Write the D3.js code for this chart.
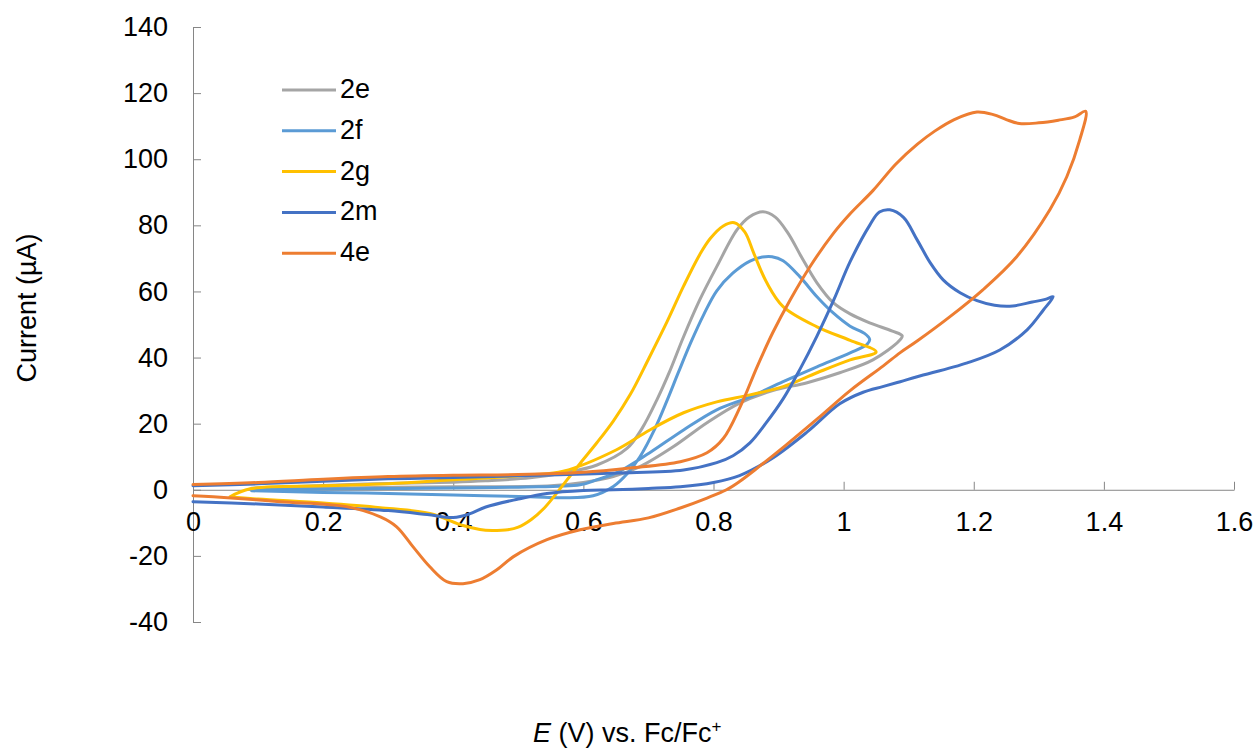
<!DOCTYPE html>
<html>
<head>
<meta charset="utf-8">
<script src="https://cdn.jsdelivr.net/npm/d3@7"></script>
<style>
  html, body { margin: 0; padding: 0; background: #fff; }
  svg { display: block; font-family: "Liberation Sans", Arial, sans-serif; }
</style>
</head>
<body>
<svg id="chart" width="1257" height="749"></svg>
<script>
// ---- data (E in V vs Fc/Fc+, current in µA) ----
const seriesNames = ["2e", "2f", "2g", "2m", "4e"];
const seriesColors = ["#A5A5A5", "#5B9BD5", "#FFC000", "#4472C4", "#ED7D31"];
const xTicks = [0, 0.2, 0.4, 0.6, 0.8, 1, 1.2, 1.4, 1.6];
const yTicks = [-40, -20, 0, 20, 40, 60, 80, 100, 120, 140];

const cv2e = [[0.09,0.5],[0.15,0.9],[0.2,1.3],[0.3,1.9],[0.4,2.3],[0.45,2.7],[0.518,3.6],[0.569,5.1],[0.621,7.5],[0.667,12.5],[0.69,18.5],[0.713,27.2],[0.732,35.5],[0.754,46.3],[0.779,57.5],[0.805,67.5],[0.836,78.6],[0.855,82.5],[0.876,84.1],[0.895,82.5],[0.915,77.5],[0.935,70.5],[0.959,62.6],[0.984,56.6],[1.01,53.2],[1.04,50.5],[1.075,48],[1.09,46.6],[1.085,45],[1.045,39.3],[0.994,35.4],[0.944,32.4],[0.891,30],[0.841,26.3],[0.79,20.3],[0.738,13],[0.687,7],[0.646,4],[0.6,2.2],[0.55,1.2],[0.4,0.9],[0.2,0.5],[0.09,0.2]];
const cv2f = [[0.09,-0.3],[0.2,-0.8],[0.3,-1.1],[0.4,-1.6],[0.518,-2.1],[0.57,-2.4],[0.615,-1.8],[0.646,1],[0.668,5],[0.687,10],[0.71,18.5],[0.729,27.2],[0.746,35.5],[0.765,44.5],[0.785,53],[0.805,60.2],[0.83,65.6],[0.856,69.2],[0.875,70.4],[0.89,70.5],[0.907,69.3],[0.933,64.4],[0.959,58.4],[0.984,53.5],[1.01,49.5],[1.032,47.3],[1.04,45.5],[1.036,44],[1.01,41.4],[0.959,37.2],[0.907,32.7],[0.856,28.1],[0.805,24.2],[0.754,18.1],[0.702,11.2],[0.651,5.1],[0.62,3],[0.595,1.5],[0.5,0.8],[0.3,0.4],[0.09,0.1]];
const cv2g = [[0.057,-2.1],[0.088,0.3],[0.2,1.2],[0.3,1.8],[0.4,3],[0.518,4.5],[0.569,5.6],[0.651,12.1],[0.702,18.1],[0.754,23.3],[0.805,26.6],[0.856,28.7],[0.907,31.2],[0.959,35.4],[1.01,39.3],[1.05,41.7],[1.01,45.2],[0.959,49.3],[0.907,55.4],[0.882,62.6],[0.862,71.5],[0.848,78],[0.832,80.8],[0.815,79.8],[0.795,76],[0.779,71.2],[0.754,61.6],[0.729,51],[0.7,39.5],[0.672,28.8],[0.646,20.8],[0.621,14.3],[0.595,8],[0.57,1.8],[0.555,-2],[0.54,-5.5],[0.52,-9],[0.5,-11.3],[0.48,-12.2],[0.46,-12.3],[0.441,-12],[0.415,-10.8],[0.364,-7.2],[0.288,-5.4],[0.2,-4],[0.1,-2.8],[0.057,-2.1]];
const cv2m = [[0,-3.6],[0.1,-4.3],[0.2,-5.2],[0.3,-6.3],[0.36,-7.5],[0.4,-8.4],[0.425,-7.3],[0.45,-5.2],[0.5,-2.8],[0.544,-1.1],[0.6,-0.2],[0.646,0],[0.7,0.4],[0.749,0.9],[0.8,2.2],[0.84,4.3],[0.89,9.5],[0.944,17.5],[0.994,26],[1.03,29.5],[1.06,31.2],[1.087,32.7],[1.113,34.2],[1.19,38.4],[1.24,42.3],[1.282,48.4],[1.307,54.4],[1.322,58.4],[1.31,57.6],[1.29,56.8],[1.26,55.6],[1.232,55.8],[1.205,57.2],[1.179,59.6],[1.153,63.5],[1.133,68.7],[1.113,75.6],[1.092,82.4],[1.071,84.7],[1.055,84],[1.04,80],[1.01,69],[0.985,57.5],[0.959,46.5],[0.933,36.5],[0.907,27.5],[0.88,20],[0.856,14.2],[0.83,10.3],[0.805,8.2],[0.754,6],[0.651,5.1],[0.549,4.5],[0.4,3.7],[0.3,3.3],[0.2,2.6],[0.1,1.8],[0,1.2]];
const cv4e = [[0,1.6],[0.1,2.2],[0.2,3.2],[0.3,4],[0.4,4.4],[0.5,4.6],[0.6,5.3],[0.672,6.6],[0.749,8.5],[0.79,11.2],[0.815,15.5],[0.841,25.1],[0.867,37.2],[0.891,47.5],[0.918,57.5],[0.95,68],[0.984,77.5],[1.01,83.5],[1.045,90.5],[1.08,98.5],[1.113,104.5],[1.14,108.5],[1.17,112],[1.205,114.3],[1.23,113.5],[1.25,112],[1.27,110.8],[1.3,111],[1.33,111.8],[1.355,112.8],[1.372,114.5],[1.363,105.9],[1.343,94.7],[1.317,84.7],[1.266,70.5],[1.214,60.5],[1.163,52.3],[1.113,45],[1.087,41.5],[1.061,37.5],[1.01,30],[0.96,21.5],[0.91,13.3],[0.87,7],[0.84,2.5],[0.82,0],[0.79,-2.5],[0.749,-5.5],[0.7,-8.5],[0.646,-10.2],[0.595,-12.1],[0.544,-15.1],[0.492,-20.3],[0.467,-24.2],[0.441,-27.2],[0.415,-28.4],[0.39,-27.8],[0.364,-23.3],[0.338,-17.2],[0.313,-11.2],[0.288,-8.2],[0.236,-5.1],[0.134,-3.6],[0.031,-2.1],[0,-1.8]];
const seriesData = [cv2e, cv2f, cv2g, cv2m, cv4e];

// ---- drawing ----
const svg = d3.select("#chart");
const x = d3.scaleLinear().domain([0, 1.6]).range([193, 1234]);
const y = d3.scaleLinear().domain([-40, 140]).range([622, 27]);
const axisColor = "#868686";
const fontPx = "27px";
const fmt = d => String(d);

// y axis
const gy = svg.append("g").attr("transform", `translate(${x(0)},0)`)
  .call(d3.axisLeft(y).tickValues(yTicks).tickFormat(fmt).tickSizeInner(-8).tickSizeOuter(0).tickPadding(25));
gy.select(".domain").attr("stroke", axisColor);
gy.selectAll(".tick line").attr("stroke", axisColor);
gy.selectAll(".tick text").attr("fill", "#000").style("font-size", fontPx).style("font-family", "'Liberation Sans', Arial, sans-serif");

// x axis
const gx = svg.append("g").attr("transform", `translate(0,${y(0)})`)
  .call(d3.axisBottom(x).tickValues(xTicks).tickFormat(fmt).tickSizeInner(-8).tickSizeOuter(0).tickPadding(22));
gx.select(".domain").attr("stroke", axisColor);
gx.selectAll(".tick line").attr("stroke", axisColor);
gx.selectAll(".tick text").attr("fill", "#000").style("font-size", fontPx).style("font-family", "'Liberation Sans', Arial, sans-serif");

// lines
const line = d3.line().x(d => x(d[0])).y(d => y(d[1])).curve(d3.curveCatmullRom.alpha(0.5));
svg.append("g").selectAll("path").data(seriesData).join("path")
  .attr("d", line)
  .attr("fill", "none")
  .attr("stroke", (d, i) => seriesColors[i])
  .attr("stroke-width", 3)
  .attr("stroke-linejoin", "round")
  .attr("stroke-linecap", "round");

// legend
const lg = svg.append("g");
const legRows = seriesNames.map((n, i) => ({ n, c: seriesColors[i], i }));
lg.selectAll("line").data(legRows).join("line")
  .attr("x1", 282).attr("x2", 336)
  .attr("y1", d => 90 + d.i * 40.8).attr("y2", d => 90 + d.i * 40.8)
  .attr("stroke", d => d.c).attr("stroke-width", 3);
lg.selectAll("text").data(legRows).join("text")
  .attr("x", 340).attr("y", d => 98 + d.i * 40.8)
  .style("font-size", fontPx)
  .text(d => d.n);

// axis titles
svg.append("text")
  .attr("transform", "translate(36,308) rotate(-90)")
  .attr("text-anchor", "middle")
  .style("font-size", fontPx)
  .text("Current (µA)");

const xt = svg.append("text")
  .attr("x", 533).attr("y", 742)
  .attr("text-anchor", "start")
  .style("font-size", fontPx);
xt.append("tspan").style("font-style", "italic").text("E");
xt.append("tspan").text(" (V) vs. Fc/Fc");
xt.append("tspan").attr("dy", "-10").style("font-size", "17px").text("+");
</script>
</body>
</html>
